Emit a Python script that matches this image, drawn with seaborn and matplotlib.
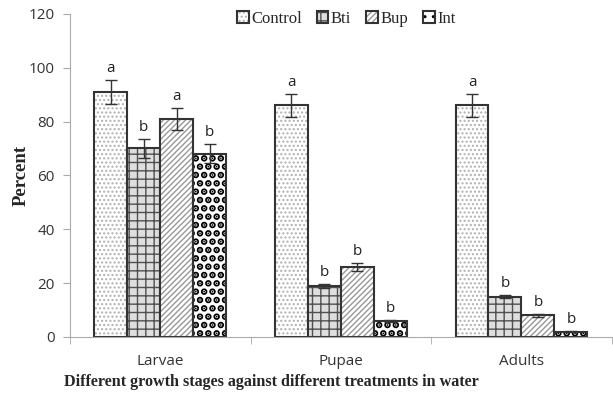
import numpy as np
import pandas as pd
import matplotlib
matplotlib.use("Agg")
from matplotlib import pyplot as plt
import seaborn as sns

stages = ["Larvae", "Pupae", "Adults"]
treatments = ["Control", "Bti", "Bup", "Int"]
control = [91, 86, 86]
bti = [70, 19, 15]
bup = [81, 26, 8]
inte = [68, 6, 2]
control_err = [4.5, 4.2, 4.2]
bti_err = [3.5, 0.8, 0.7]
bup_err = [4.0, 1.4, 0.6]
inte_err = [3.5, 0.4, 0.3]
letters = [["a", "a", "a"], ["b", "b", "b"], ["a", "b", "b"], ["b", "b", "b"]]

values = [control, bti, bup, inte]
errors = [control_err, bti_err, bup_err, inte_err]

rows = []
for t, vals in zip(treatments, values):
    for s, v in zip(stages, vals):
        rows.append({"stage": s, "treatment": t, "percent": v})
df = pd.DataFrame(rows)

sns.set_style("white")

fig = plt.figure(figsize=(6.13, 3.95), dpi=100)
ax = fig.add_axes([0.114, 0.147, 0.884, 0.818])

sns.barplot(data=df, x="stage", y="percent", hue="treatment", order=stages,
            hue_order=treatments, palette=["white"] * 4, width=0.73, errorbar=None,
            edgecolor="#333333", linewidth=1.5, ax=ax, legend=False)

# fill, hatch, hatch colour, hatch line width
styles = [
    ("white", "....", "#b0b0b0", 1.0),
    ("#dedede", "++", "#505050", 1.0),
    ("white", "//////", "#999999", 1.0),
    ("white", "..", "black", 3.4),
]

bar_groups = list(ax.containers)
for i, cont in enumerate(bar_groups):
    fc, hatch, hc, hlw = styles[i]
    for j, bar in enumerate(cont):
        bar.set_facecolor(fc)
        bar.set_hatch(hatch)
        bar._hatch_color = matplotlib.colors.to_rgba(hc)
        if hasattr(bar, "set_hatch_linewidth"):
            bar.set_hatch_linewidth(hlw)
        x = bar.get_x() + bar.get_width() / 2
        h = bar.get_height()
        e = errors[i][j]
        ax.errorbar(x, h, yerr=e, fmt="none", ecolor="#333333", elinewidth=1,
                    capsize=4, capthick=1)
        ax.text(x, h + e + 1.5, letters[i][j], ha="center", va="bottom",
                fontsize=11, family="Open Sans", color="#222222")

ax.set_ylim(0, 120)
ax.set_yticks(np.arange(0, 121, 20))
ax.set_xlim(-0.5, 2.5)
ax.set_xticks([-0.5, 0.5, 1.5, 2.5], minor=True)
ax.tick_params(axis="x", which="major", length=0, pad=12)
ax.tick_params(axis="x", which="minor", length=5, color="#aaaaaa", direction="out", bottom=True)
ax.tick_params(axis="y", length=5, color="#aaaaaa", direction="out", left=True, pad=6)
for lab in ax.get_xticklabels() + ax.get_yticklabels():
    lab.set_family("Open Sans")
    lab.set_fontsize(11)
    lab.set_color("#333333")

for sp in ["top", "right"]:
    ax.spines[sp].set_visible(False)
ax.spines["left"].set_color("#aaaaaa")
ax.spines["bottom"].set_color("#aaaaaa")

ax.set_ylabel("Percent", family="Liberation Serif", fontweight="bold", fontsize=13.5)
ax.yaxis.set_label_coords(-0.075, 0.5)
ax.set_xlabel("Different growth stages against different treatments in water",
              family="Liberation Serif", fontweight="bold", fontsize=11.6)
ax.xaxis.set_label_coords(0.371, -0.115)

handles = [bar_groups[i][0] for i in range(4)]
leg = ax.legend(handles, treatments, loc="upper center", bbox_to_anchor=(0.51, 1.055),
                ncol=4, frameon=False, prop={"family": "Liberation Serif", "size": 12},
                handlelength=0.7, handleheight=0.7, handletextpad=0.15, columnspacing=0.9)

fig.savefig("out.png", dpi=100)
